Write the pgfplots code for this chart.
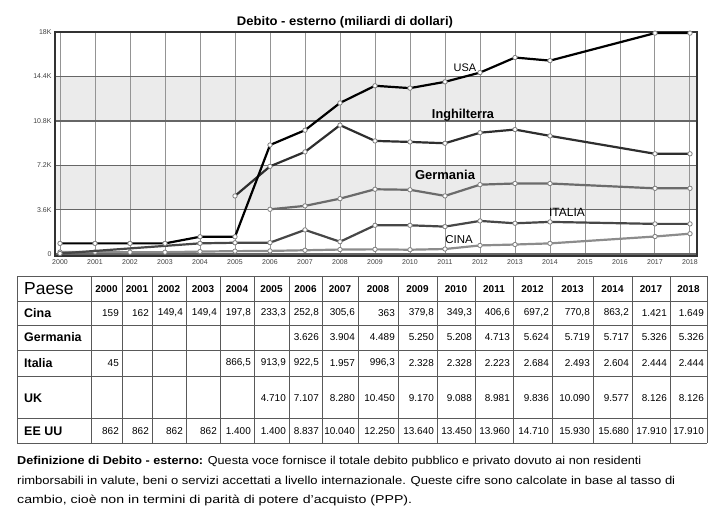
\documentclass[border=0pt]{standalone}
\usepackage{fontspec}
\setmainfont{Liberation Sans}
\usepackage{graphicx}
\usepackage{pgfplots}
\pgfplotsset{compat=1.18}

\newcommand\fs[1]{\fontsize{#1}{#1}\selectfont}

\begin{document}
\begin{tikzpicture}
% page frame 708 x 507
\path (0,0) rectangle (708bp,-507bp);

\begin{axis}[
    at={(55bp,-256bp)}, anchor=south west,
    scale only axis, width=642bp, height=224bp,
    xmin=1999.857, xmax=2018.2, ymin=-160, ymax=18000,
    set layers, clip mode=individual,
    scaled y ticks=false,
    axis line style={draw=black!80, line width=1.6bp},
    xtick={2000,...,2018},
    xticklabels={2000,2001,2002,2003,2004,2005,2006,2007,2008,2009,2010,2011,2012,2013,2014,2015,2016,2017,2018},
    ytick={0,3600,7200,10800,14400,18000},
    yticklabels={0,3.6K,7.2K,10.8K,14.4K,18K},
    tick style={draw=none},
    ticklabel style={font=\fs{7}, text=black!75},
    /pgf/number format/assume math mode=true,
    xmajorgrids, ymajorgrids,
    x grid style={black!42, line width=0.9bp},
    y grid style={black!60, line width=1.4bp},
    every axis plot/.append style={line width=2.2bp, mark=*, mark size=2.2bp,
        mark options={fill=white, draw=black!50, line width=0.8bp}},
]
\begin{pgfonlayer}{axis background}
\fill[black!8] (axis cs:1999.857,3600) rectangle (axis cs:2018.2,7200);
\fill[black!8] (axis cs:1999.857,10800) rectangle (axis cs:2018.2,14400);
\end{pgfonlayer}

% Cina
\addplot[black!45] coordinates {(2000,159) (2001,162) (2002,149.4) (2003,149.4) (2004,197.8)
  (2005,233.3) (2006,252.8) (2007,305.6) (2008,363) (2009,379.8) (2010,349.3) (2011,406.6)
  (2012,697.2) (2013,770.8) (2014,863.2) (2017,1421) (2018,1649)};
% Italia
\addplot[black!72] coordinates {(2000,45) (2004,866.5) (2005,913.9) (2006,922.5) (2007,1957)
  (2008,996.3) (2009,2328) (2010,2328) (2011,2223) (2012,2684) (2013,2493) (2014,2604)
  (2017,2444) (2018,2444)};
% Germania
\addplot[black!58] coordinates {(2006,3626) (2007,3904) (2008,4489) (2009,5250) (2010,5208)
  (2011,4713) (2012,5624) (2013,5719) (2014,5717) (2017,5326) (2018,5326)};
% UK
\addplot[black!82] coordinates {(2005,4710) (2006,7107) (2007,8280) (2008,10450) (2009,9170)
  (2010,9088) (2011,8981) (2012,9836) (2013,10090) (2014,9577) (2017,8126) (2018,8126)};
% USA
\addplot[black] coordinates {(2000,862) (2001,862) (2002,862) (2003,862) (2004,1400) (2005,1400)
  (2006,8837) (2007,10040) (2008,12250) (2009,13640) (2010,13450) (2011,13960) (2012,14710)
  (2013,15930) (2014,15680) (2017,17910) (2018,17910)};
\end{axis}

\begin{scope}[x=1bp,y=-1bp]
% title and series labels
\node at (345,22) {\resizebox{216bp}{\height}{\fs{12.5}\bfseries Debito - esterno (miliardi di dollari)}};
\node at (465,68) {\fs{11}USA};
\node at (463,115) {\resizebox{62bp}{\height}{\fs{13}\bfseries Inghilterra}};
\node at (445,175) {\resizebox{60bp}{\height}{\fs{13}\bfseries Germania}};
\node at (567,212) {\fs{12}ITALIA};
\node at (459,240) {\fs{11.5}CINA};

% table grid
\foreach \x in {17,91,122,152,186,220,254,289,322,358,398,437,475,513,552,593,632,670,707}
  \draw[black!65, line width=1bp] (\x,276) -- (\x,443);
\foreach \y in {276,301,325,350,376,418,443}
  \draw[black!65, line width=1bp] (17,\y) -- (707,\y);

\node[anchor=west, inner sep=0] at (24,288.5) {\fs{17.5}Paese};
\foreach \a/\b/\t in {91/122/2000,122/152/2001,152/186/2002,186/220/2003,220/254/2004,
    254/289/2005,289/322/2006,322/358/2007,358/398/2008,398/437/2009,437/475/2010,
    475/513/2011,513/552/2012,552/593/2013,593/632/2014,632/670/2017,670/707/2018}
  \node[font=\fs{10}\bfseries] at ({(\a+\b)/2},289) {\t};

\foreach \t/\y in {Cina/313,Germania/337.5,Italia/363,UK/398,EE UU/431}
  \node[anchor=west, inner sep=0, font=\fs{12.5}\bfseries] at (24,\y) {\t};

\tikzset{val/.style={anchor=east, inner sep=0, font=\fs{10}}}
\foreach \r/\v in {122/159,152/162,186/{149,4},220/{149,4},254/{197,8},289/{233,3},322/{252,8},
    358/{305,6},398/363,437/{379,8},475/{349,3},513/{406,6},552/{697,2},593/{770,8},632/{863,2},
    670/1.421,707/1.649}
  \node[val] at (\r-3,313) {\v};
\foreach \r/\v in {322/3.626,358/3.904,398/4.489,437/5.250,475/5.208,513/4.713,552/5.624,
    593/5.719,632/5.717,670/5.326,707/5.326}
  \node[val] at (\r-3,337.5) {\v};
\foreach \r/\v in {122/45,254/{866,5},289/{913,9},322/{922,5},358/1.957,398/{996,3},437/2.328,
    475/2.328,513/2.223,552/2.684,593/2.493,632/2.604,670/2.444,707/2.444}
  \node[val] at (\r-3,363) {\v};
\foreach \r/\v in {289/4.710,322/7.107,358/8.280,398/10.450,437/9.170,475/9.088,513/8.981,
    552/9.836,593/10.090,632/9.577,670/8.126,707/8.126}
  \node[val] at (\r-3,398) {\v};
\foreach \r/\v in {122/862,152/862,186/862,220/862,254/1.400,289/1.400,322/8.837,358/10.040,
    398/12.250,437/13.640,475/13.450,513/13.960,552/14.710,593/15.930,632/15.680,670/17.910,
    707/17.910}
  \node[val] at (\r-3,431) {\v};

% definition text
\node[anchor=west, inner sep=0] at (17,462) {\resizebox{624bp}{\height}{\fs{11.5}\textbf{Definizione di Debito - esterno:} Questa voce fornisce il totale debito pubblico e privato dovuto ai non residenti}};
\node[anchor=west, inner sep=0] at (17,481) {\resizebox{658bp}{\height}{\fs{11.5}rimborsabili in valute, beni o servizi accettati a livello internazionale. Queste cifre sono calcolate in base al tasso di}};
\node[anchor=west, inner sep=0] at (17,500) {\resizebox{395bp}{\height}{\fs{11.5}cambio, cioè non in termini di parità di potere d'acquisto (PPP).}};
\end{scope}
\end{tikzpicture}
\end{document}
